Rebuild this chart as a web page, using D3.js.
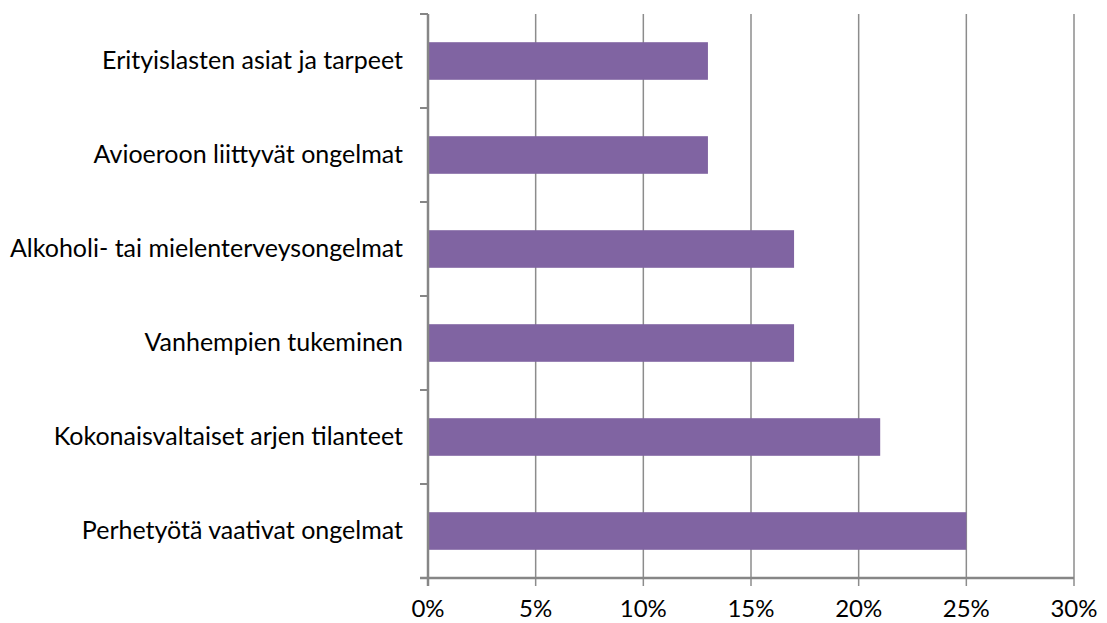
<!DOCTYPE html>
<html lang="fi">
<head>
<meta charset="utf-8">
<style>
  body { margin: 0; background: #fff; }
  text { font-family: Lato, sans-serif; fill: #000; }
</style>
</head>
<body>
<svg id="chart" width="1107" height="623"></svg>
<script src="https://d3js.org/d3.v7.min.js"></script>
<script>
const categories = [
  "Erityislasten asiat ja tarpeet",
  "Avioeroon liittyvät ongelmat",
  "Alkoholi- tai mielenterveysongelmat",
  "Vanhempien tukeminen",
  "Kokonaisvaltaiset arjen tilanteet",
  "Perhetyötä vaativat ongelmat"
];
const values = [13, 13, 17, 17, 21, 25];
const xTicks = [0, 5, 10, 15, 20, 25, 30];

const svg = d3.select("#chart");
const plotLeft = 428, plotRight = 1074, plotTop = 14, plotBottom = 578;

const x = d3.scaleLinear().domain([0, 30]).range([plotLeft, plotRight]);
const y = d3.scaleBand().domain(categories).range([plotTop, plotBottom]);

// gridlines
svg.append("g")
  .selectAll("line")
  .data(xTicks.slice(1))
  .enter()
  .append("line")
    .attr("x1", d => x(d)).attr("x2", d => x(d))
    .attr("y1", plotTop).attr("y2", plotBottom + 8)
    .attr("stroke", "#8c8c8c")
    .attr("stroke-width", 1.5);

// bars
const barH = y.bandwidth() * 0.4;
svg.append("g")
  .selectAll("rect")
  .data(values)
  .enter()
  .append("rect")
    .attr("x", x(0))
    .attr("y", (d, i) => y(categories[i]) + (y.bandwidth() - barH) / 2)
    .attr("width", d => x(d) - x(0))
    .attr("height", barH)
    .attr("fill", "#8064a2");

// y axis with category boundary ticks
const axisColor = "#868686";
svg.append("line")
  .attr("x1", plotLeft).attr("x2", plotLeft)
  .attr("y1", plotTop).attr("y2", plotBottom + 8)
  .attr("stroke", axisColor).attr("stroke-width", 2.5);
const bounds = categories.map(c => y(c)).concat([plotBottom]);
svg.append("g")
  .selectAll("line")
  .data(bounds)
  .enter()
  .append("line")
    .attr("x1", plotLeft - 8).attr("x2", plotLeft)
    .attr("y1", d => d).attr("y2", d => d)
    .attr("stroke", axisColor).attr("stroke-width", 2);

// x axis
svg.append("line")
  .attr("x1", plotLeft - 8).attr("x2", plotRight)
  .attr("y1", plotBottom).attr("y2", plotBottom)
  .attr("stroke", axisColor).attr("stroke-width", 2.5);

svg.append("g")
  .selectAll("text")
  .data(xTicks)
  .enter()
  .append("text")
    .attr("x", d => x(d))
    .attr("y", 617)
    .attr("text-anchor", "middle")
    .attr("font-size", 24)
    .text(d => d + "%");

svg.append("g")
  .selectAll("text")
  .data(categories)
  .enter()
  .append("text")
    .attr("x", 403)
    .attr("y", d => y(d) + y.bandwidth() / 2 + 8)
    .attr("text-anchor", "end")
    .attr("font-size", 25)
    .text(d => d);
</script>
</body>
</html>
